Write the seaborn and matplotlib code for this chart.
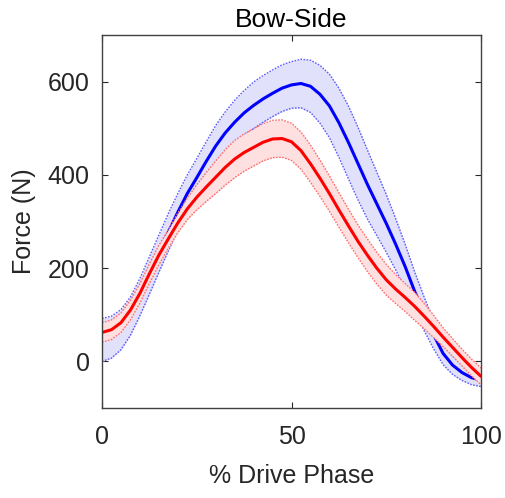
import numpy as np
import pandas as pd
import matplotlib
matplotlib.use("Agg")
import matplotlib.pyplot as plt
import seaborn as sns

# % of drive phase
drive_pct = [0, 2.5, 5, 7.5, 10, 12.5, 15, 17.5, 20, 22.5, 25, 27.5, 30, 32.5, 35, 37.5,
             40, 42.5, 45, 47.5, 50, 52.5, 55, 57.5, 60, 62.5, 65, 67.5, 70, 72.5, 75, 77.5,
             80, 82.5, 85, 87.5, 90, 92.5, 95, 97.5, 100]

# blue series: mean force and spread (N)
blue_mean = [46, 52, 68, 97, 138, 184, 231, 277, 320, 360, 394, 429, 462, 490, 513, 533,
             549, 563, 575, 586, 593, 596, 590, 573, 548, 512, 470, 425, 380, 338, 296, 251,
             203, 150, 102, 57, 17, -8, -24, -35, -40]
blue_sd = [46, 45, 43, 41, 40, 40, 40, 40, 40, 40, 41, 42, 44, 45, 47, 48,
           50, 50, 50, 50, 50, 52, 56, 62, 68, 74, 78, 78, 74, 68, 62, 55,
           48, 42, 36, 30, 24, 20, 17, 15, 14]

# red series: mean force and spread (N)
red_mean = [62, 68, 83, 110, 146, 188, 228, 263, 297, 327, 352, 374, 395, 416, 434, 448,
            459, 470, 477, 478, 471, 452, 424, 393, 360, 325, 291, 258, 228, 200, 175, 155,
            137, 118, 97, 75, 52, 30, 8, -13, -32]
red_sd = [21, 21, 21, 21, 21, 21, 21, 20, 21, 23, 27, 31, 35, 38, 40, 40,
          40, 40, 40, 40, 40, 40, 40, 39, 38, 37, 36, 35, 35, 34, 33, 31,
          30, 30, 27, 24, 20, 19, 18, 18, 18]

x_ticks = [0, 50, 100]
y_ticks = [0, 200, 400, 600]

sns.set_style("ticks")
plt.rcParams["font.family"] = ["Liberation Sans", "DejaVu Sans"]
plt.rcParams["xtick.direction"] = "in"
plt.rcParams["ytick.direction"] = "in"

df = pd.DataFrame({"pct": drive_pct, "blue": blue_mean, "blue_sd": blue_sd,
                   "red": red_mean, "red_sd": red_sd})

fig = plt.figure(figsize=(5.06, 4.98), dpi=100)
ax = fig.add_axes([0.2016, 0.1807, 0.7490, 0.7490])

edge_style = dict(linestyle=(0, (1.2, 1.0)), linewidth=1.0)


def shaded(ax, mean_col, sd_col, line_color, fill_color, edge_color, z):
    lo = df[mean_col] - df[sd_col]
    hi = df[mean_col] + df[sd_col]
    band = ax.fill_between(df["pct"], lo, hi, color=fill_color, linewidth=0)
    band.set_zorder(z)
    for edge in (lo, hi):
        (ln,) = ax.plot(df["pct"], edge, color=edge_color, **edge_style)
        ln.set_zorder(z + 0.1)
    n_before = len(ax.lines)
    sns.lineplot(data=df, x="pct", y=mean_col, color=line_color, linewidth=2.2, ax=ax)
    for ln in ax.lines[n_before:]:
        ln.set_zorder(z + 0.2)


shaded(ax, "blue", "blue_sd", "#0000ff", "#e1e1fb", "#5c5cff", 1.0)
shaded(ax, "red", "red_sd", "#ff0000", "#ffe0e0", "#ff6e6e", 2.0)

ax.set_xlim(0, 100)
ax.set_ylim(-100, 700)
ax.set_xticks(x_ticks)
ax.set_yticks(y_ticks)

text_color = "#262626"
ax.tick_params(axis="both", which="both", top=True, right=True, length=4, width=0.8,
               color=text_color, labelsize=18, labelcolor=text_color)
ax.tick_params(axis="y", pad=9)
ax.tick_params(axis="x", pad=12)
for s in ax.spines.values():
    s.set_color("#404040")
    s.set_linewidth(1.0)
    s.set_zorder(5)

ax.set_xlabel("% Drive Phase", fontsize=18, color=text_color, labelpad=11)
ax.set_ylabel("Force (N)", fontsize=18, color=text_color, labelpad=8)
ax.set_title("Bow-Side", fontsize=19, color="black", pad=6)

fig.savefig("out.png", dpi=100)
